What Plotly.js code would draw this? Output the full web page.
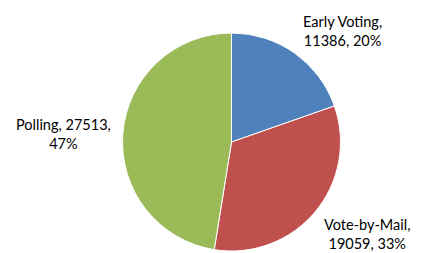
<!DOCTYPE html>
<html><head><meta charset="utf-8">
<script src="https://cdn.plot.ly/plotly-3.0.1.min.js"></script>
<style>html,body{margin:0;padding:0;background:#fff}</style>
</head><body><div id="chart" style="width:425px;height:253px"></div>
<script>
const categories = ["Early Voting", "Vote-by-Mail", "Polling"];
const values = [11386, 19059, 27513];
const colors = ["#4F81BD", "#C0504D", "#9BBB59"];
const total = values.reduce((a, b) => a + b, 0);
const labelText = categories.map((c, i) => {
  const pct = Math.round(values[i] / total * 100);
  return i === 2 ? `${c}, ${values[i]},<br>${pct}%` : `${c},<br>${values[i]}, ${pct}%`;
});
// label block centres in pixels (layout only)
const labelPos = [[342, 31], [367, 234], [64, 134]];
const W = 425, H = 253;
Plotly.newPlot("chart", [{
  type: "pie",
  labels: categories,
  values: values,
  textinfo: "none",
  sort: false,
  direction: "clockwise",
  rotation: 0,
  marker: {colors: colors, line: {color: "#ffffff", width: 1}},
  domain: {x: [122/W, 341/W], y: [1 - 251/H, 1 - 33/H]},
  automargin: false,
  hoverinfo: "none"
}], {
  width: W, height: H,
  margin: {l: 0, r: 0, t: 0, b: 0},
  showlegend: false,
  paper_bgcolor: "#fff",
  annotations: labelText.map((t, i) => ({
    text: t, showarrow: false, xref: "paper", yref: "paper",
    x: labelPos[i][0] / W, y: 1 - labelPos[i][1] / H,
    xanchor: "center", yanchor: "middle", align: "center",
    font: {family: "Lato, 'Open Sans', sans-serif", size: 14.5, color: "#000"}
  }))
}, {staticPlot: true});
</script></body></html>
